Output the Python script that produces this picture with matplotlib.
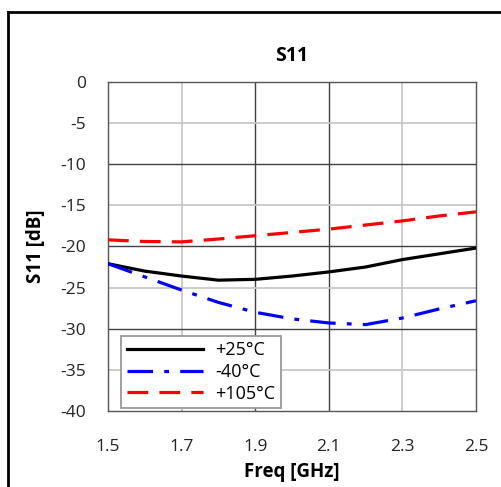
import numpy as np
import matplotlib.pyplot as plt
from matplotlib.lines import Line2D

plt.rcParams['font.family'] = ['Open Sans', 'DejaVu Sans']

freq = [1.5, 1.6, 1.7, 1.8, 1.9, 2.0, 2.1, 2.2, 2.3, 2.4, 2.5]
s11_25 = [-22.1, -23.0, -23.6, -24.1, -24.0, -23.6, -23.1, -22.5, -21.6, -20.9, -20.2]
s11_m40 = [-22.1, -23.7, -25.3, -26.8, -28.0, -28.8, -29.3, -29.5, -28.7, -27.6, -26.6]
s11_105 = [-19.2, -19.4, -19.45, -19.1, -18.7, -18.3, -17.9, -17.4, -16.9, -16.3, -15.8]

xticks = [1.5, 1.7, 1.9, 2.1, 2.3, 2.5]
yticks = [0, -5, -10, -15, -20, -25, -30, -35, -40]

fig = plt.figure(figsize=(5.02, 4.87), dpi=100)
ax = fig.add_axes([0.2151, 0.156, 0.733, 0.676])

# grid: light and dark lines like the excel original
for x in [1.7, 2.3]:
    ax.axvline(x, color='#c8c8c8', lw=1.3, zorder=1)
for x in [1.9, 2.1]:
    ax.axvline(x, color='#404040', lw=1.0, zorder=1)
for y in [-5, -15, -25, -35]:
    ax.axhline(y, color='#c8c8c8', lw=1.3, zorder=1)
for y in [-10, -20, -30]:
    ax.axhline(y, color='#404040', lw=1.0, zorder=1)

ax.plot(freq, s11_25, color='black', lw=2.3, label='+25°C', zorder=3)
ax.plot(freq, s11_m40, color='#0000ff', lw=2.3, dashes=(8, 3.5, 1.5, 3.5), label='-40°C', zorder=3)
ax.plot(freq, s11_105, color='#ff0000', lw=2.3, dashes=(6.5, 3.5), label='+105°C', zorder=3)

ax.set_xlim(1.5, 2.5)
ax.set_ylim(-40, 0)
ax.set_xticks(xticks)
ax.set_xticklabels([str(t) for t in xticks])
ax.set_yticks(yticks)
ax.set_yticklabels([str(t) for t in yticks])
ax.tick_params(length=0, labelsize=12.5, pad=16, colors='#222222')
ax.tick_params(axis='x', pad=20)
for s in ax.spines.values():
    s.set_color('#555555')
    s.set_linewidth(1.0)

ax.set_title('S11', fontsize=14, fontweight='bold', pad=15)
ax.set_xlabel('Freq [GHz]', fontsize=13.5, fontweight='bold', labelpad=5)
ax.set_ylabel('S11 [dB]', fontsize=13.5, fontweight='bold', labelpad=10)

leg = ax.legend(loc='lower left', bbox_to_anchor=(0.012, -0.018), fontsize=13,
                handlelength=4.2, fancybox=False, edgecolor='#999999',
                framealpha=1, borderpad=0.3, labelspacing=0.2, handletextpad=0.7)
leg.get_frame().set_linewidth(1.3)

# outer frame (left and top edges visible)
fig.add_artist(Line2D([8/502, 8/502], [0, 1 - 12/487], color='black', lw=2))
fig.add_artist(Line2D([8/502, 1], [1 - 12/487, 1 - 12/487], color='black', lw=2))

fig.savefig('out.png', dpi=100)
